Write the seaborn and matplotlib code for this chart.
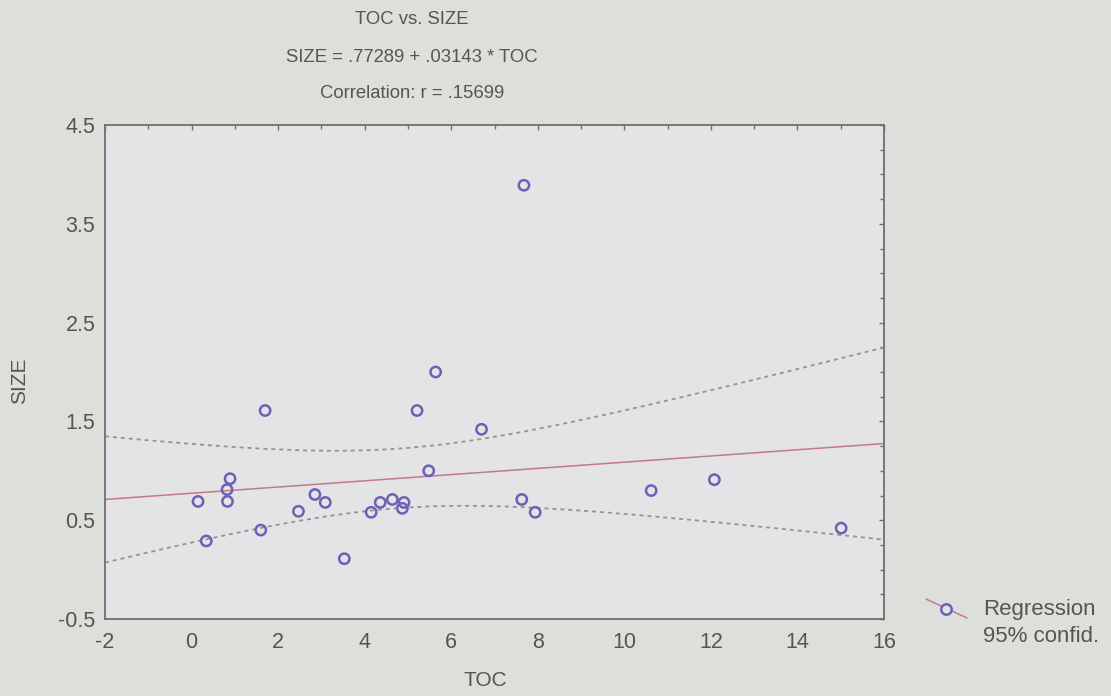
import numpy as np
import pandas as pd
import matplotlib
matplotlib.use("Agg")
import matplotlib.pyplot as plt
from matplotlib.ticker import MultipleLocator, FixedLocator
from matplotlib.lines import Line2D
import seaborn as sns

# Observations
toc = [1.70, 5.64, 5.21, 6.70, 5.48, 0.89, 0.82, 0.83, 0.15, 0.34, 1.60, 2.47, 2.85,
       3.09, 3.53, 4.15, 4.36, 4.64, 4.91, 4.87, 7.63, 7.94, 10.62, 12.08, 15.01, 7.68]
size = [1.61, 2.00, 1.61, 1.42, 1.00, 0.92, 0.81, 0.69, 0.69, 0.29, 0.40, 0.59, 0.76,
        0.68, 0.11, 0.58, 0.68, 0.71, 0.68, 0.62, 0.71, 0.58, 0.80, 0.91, 0.42, 3.89]

# Fitted model as reported
intercept = 0.77289
slope = 0.03143
r_value = 0.15699
t_crit = 2.064  # two-sided 95%, 24 degrees of freedom

x_ticks = [-2, 0, 2, 4, 6, 8, 10, 12, 14, 16]
y_ticks = [-0.5, 0.5, 1.5, 2.5, 3.5, 4.5]
x_range = (-2, 16)
y_range = (-0.5, 4.5)

title_lines = ["TOC vs. SIZE",
               "SIZE = .77289 + .03143 * TOC",
               "Correlation: r = .15699"]
legend_labels = ["Regression", "95% confid."]

df = pd.DataFrame({"TOC": toc, "SIZE": size})

# Regression line and 95% confidence band for the mean
n = len(df)
xbar = df["TOC"].mean()
sxx = ((df["TOC"] - xbar) ** 2).sum()
resid = df["SIZE"] - (intercept + slope * df["TOC"])
s_err = np.sqrt((resid ** 2).sum() / (n - 2))
grid = np.linspace(x_range[0], x_range[1], 200)
fit = intercept + slope * grid
half = t_crit * s_err * np.sqrt(1.0 / n + (grid - xbar) ** 2 / sxx)
band = pd.DataFrame({"x": grid, "fit": fit, "lo": fit - half, "hi": fit + half})

sns.set_theme(style="white")
plt.rcParams["font.family"] = ["Liberation Sans", "DejaVu Sans"]

text_col = "#555555"
frame_col = "#6f6f6f"
marker_col = "#6a62b4"
line_col = "#c4788a"
band_col = "#a88a8e"

fig = plt.figure(figsize=(11.11, 6.96), dpi=100, facecolor="#dddfdb")
ax = fig.add_axes([105 / 1111, 1 - 619 / 696, 779 / 1111, 494 / 696])
ax.set_facecolor("#e4e4e6")

sns.lineplot(data=band, x="x", y="fit", ax=ax, color=line_col, lw=1.1)
sns.lineplot(data=band, x="x", y="hi", ax=ax, color=band_col, lw=1.3,
             linestyle=(0, (2.2, 2.2)))
sns.lineplot(data=band, x="x", y="lo", ax=ax, color=band_col, lw=1.3,
             linestyle=(0, (2.2, 2.2)))
sns.scatterplot(data=df, x="TOC", y="SIZE", ax=ax, marker="o", s=55,
                facecolors="none", edgecolor=marker_col, linewidth=1.8, zorder=5)

ax.set_xlim(*x_range)
ax.set_ylim(*y_range)
ax.xaxis.set_major_locator(FixedLocator(x_ticks))
ax.xaxis.set_minor_locator(MultipleLocator(1))
ax.yaxis.set_major_locator(FixedLocator(y_ticks))
ax.yaxis.set_minor_locator(MultipleLocator(0.25))
ax.set_xticklabels([f"{v:g}" for v in x_ticks])
ax.set_yticklabels([f"{v:g}" for v in y_ticks])
ax.tick_params(which="both", direction="in", top=True, right=True,
               color=frame_col, width=1.0)
ax.tick_params(which="major", length=3.5, labelsize=15.5, labelcolor=text_col)
ax.tick_params(which="minor", length=3.0)
ax.tick_params(axis="x", pad=9)
ax.tick_params(axis="y", pad=7)
ax.set_xlabel("")
ax.set_ylabel("")
for sp in ax.spines.values():
    sp.set_color(frame_col)
    sp.set_linewidth(1.3)

# Titles
for yy, txt in zip([20, 57, 93], title_lines):
    fig.text(412 / 1111, 1 - yy / 696, txt, ha="center", va="center",
             fontsize=13.3, color=text_col)

# Axis titles
fig.text(485 / 1111, 1 - 680 / 696, "TOC", ha="center", va="center",
         fontsize=15, color=text_col)
fig.text(20 / 1111, 1 - 381 / 696, "SIZE", ha="center", va="center",
         rotation=90, fontsize=15, color=text_col)

# Legend key
fig.add_artist(Line2D([926 / 1111, 967 / 1111], [1 - 599 / 696, 1 - 618 / 696],
                      transform=fig.transFigure, color=line_col, lw=1.1))
fig.add_artist(Line2D([946 / 1111], [1 - 609 / 696], transform=fig.transFigure,
                      marker="o", markersize=7.5, markerfacecolor="#e4e4e6",
                      markeredgecolor=marker_col, markeredgewidth=1.8, lw=0))
fig.text(983 / 1111, 1 - 610 / 696, legend_labels[0], ha="left", va="center",
         fontsize=16, color=text_col)
fig.text(983 / 1111, 1 - 636 / 696, legend_labels[1], ha="left", va="center",
         fontsize=16, color=text_col)

fig.savefig("out.png", dpi=100, facecolor=fig.get_facecolor())
